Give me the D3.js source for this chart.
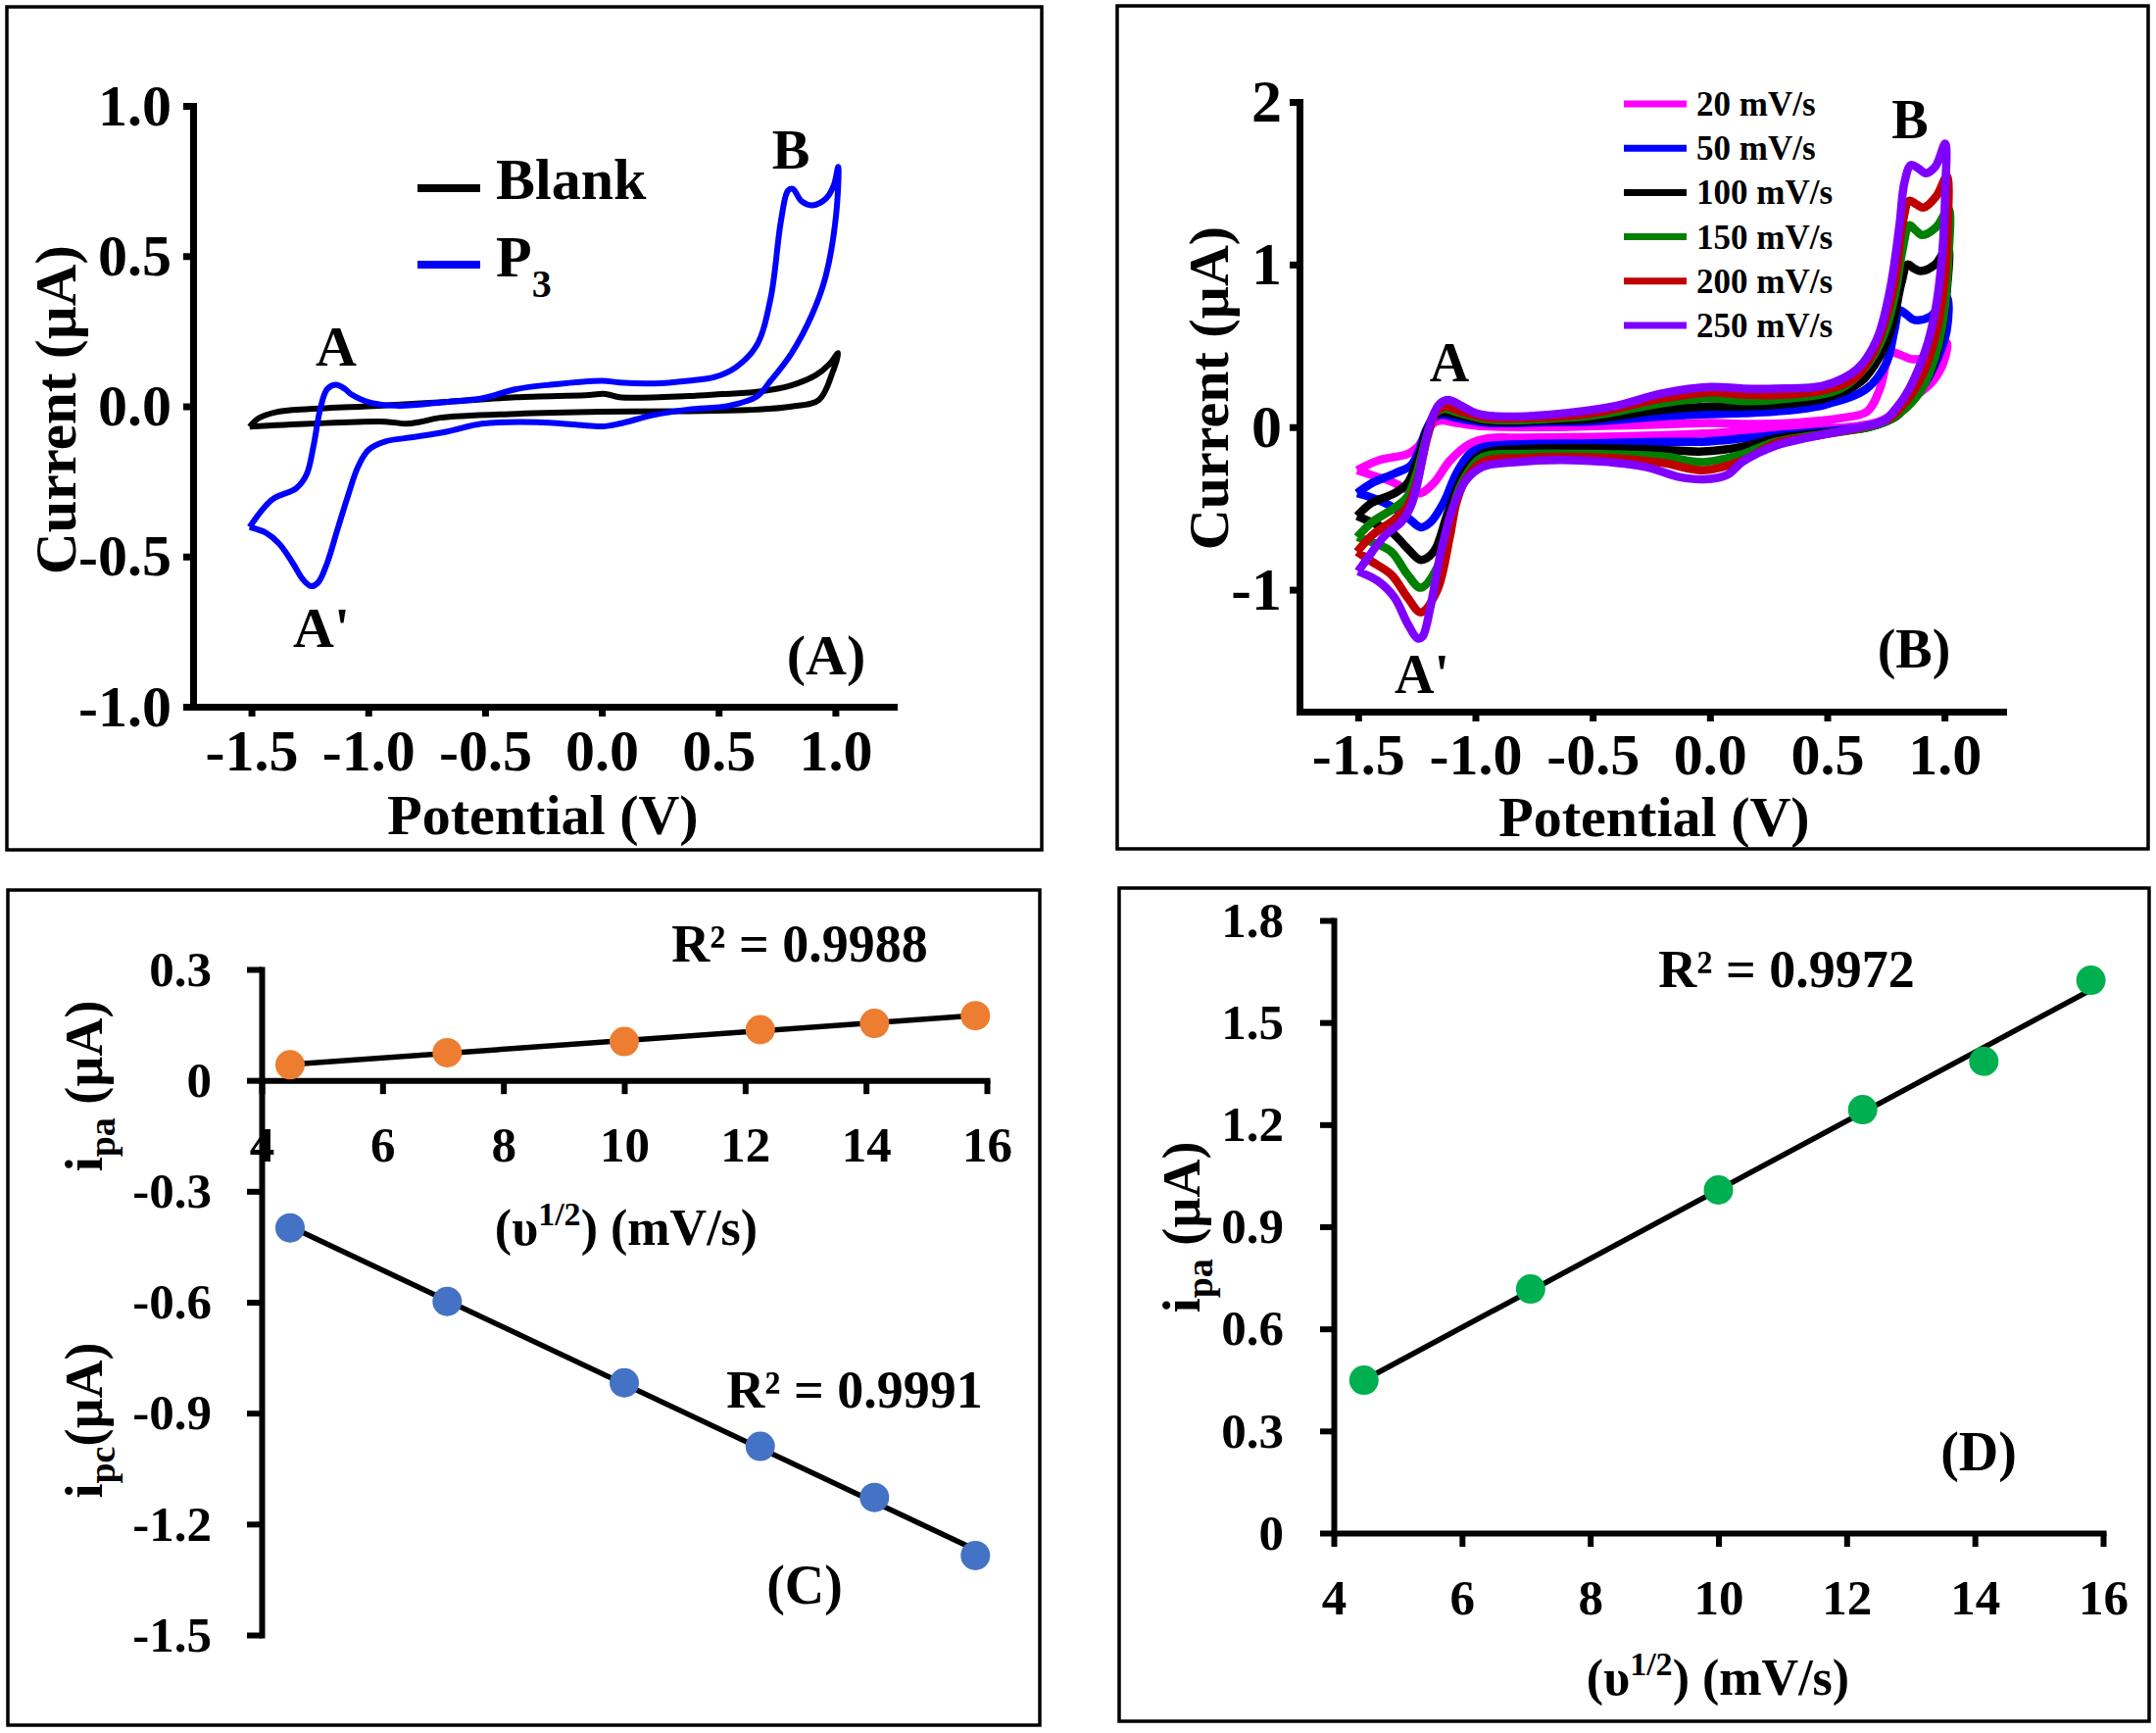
<!DOCTYPE html>
<html lang="en">
<head>
<meta charset="UTF-8">
<title>CV panels</title>
<script src="https://d3js.org/d3.v7.min.js"></script>
<style>
  body { margin: 0; background: #fff; }
  svg text { font-family: "Liberation Serif", "Times New Roman", serif; font-weight: bold; fill: #000; }
</style>
</head>
<body>
<div id="chart"></div>
<script>
// ---------- data ----------
const potTicks = [-1.5, -1.0, -0.5, 0.0, 0.5, 1.0];
const curTicksA = [-1.0, -0.5, 0.0, 0.5, 1.0];
const curTicksB = [-1, 0, 1, 2];

// panel A: [potential V, current uA], forward sweep then return
const blank = [[-1.508,-0.068],[-1.470,-0.040],[-1.397,-0.020],[-1.250,-0.009],[-0.955,0.002],[-0.661,0.015],[-0.367,0.030],[-0.072,0.037],[0.016,0.041],[0.075,0.030],[0.370,0.034],[0.517,0.041],[0.664,0.048],[0.812,0.070],[0.915,0.103],[0.974,0.140],[1.012,0.177],
  [0.988,0.113],[0.929,0.021],[0.812,-0.001],[0.664,-0.011],[0.370,-0.016],[0.002,-0.018],[-0.367,-0.025],[-0.691,-0.038],[-0.779,-0.052],[-0.838,-0.058],[-0.926,-0.051],[-1.250,-0.058],[-1.508,-0.068]];
const p3 = [[-1.508,-0.402],[-1.411,-0.310],[-1.308,-0.273],[-1.264,-0.227],[-1.235,-0.135],[-1.205,-0.007],[-1.176,0.057],[-1.140,0.072],[-1.100,0.058],[-1.073,0.040],[-0.985,0.011],[-0.867,0.002],[-0.661,0.015],[-0.514,0.026],[-0.367,0.057],[-0.219,0.072],[0.002,0.085],[0.075,0.079],[0.222,0.076],[0.370,0.085],[0.487,0.098],[0.576,0.131],[0.664,0.204],[0.723,0.360],[0.767,0.617],[0.797,0.718],[0.817,0.724],[0.856,0.682],[0.900,0.669],[0.959,0.691],[0.994,0.737],[1.012,0.797],
  [1.003,0.636],[0.959,0.434],[0.900,0.305],[0.812,0.176],[0.723,0.085],[0.664,0.033],[0.546,0.002],[0.370,-0.011],[0.222,-0.029],[0.075,-0.058],[0.002,-0.067],[-0.101,-0.062],[-0.278,-0.053],[-0.514,-0.058],[-0.661,-0.084],[-0.808,-0.103],[-0.926,-0.117],[-0.999,-0.145],[-1.043,-0.200],[-1.088,-0.301],[-1.132,-0.411],[-1.176,-0.522],[-1.214,-0.586],[-1.244,-0.599],[-1.279,-0.577],[-1.323,-0.522],[-1.382,-0.457],[-1.441,-0.420],[-1.508,-0.402]];

// panel B: scan rates
const scanLabels = ["20 mV/s", "50 mV/s", "100 mV/s", "150 mV/s", "200 mV/s", "250 mV/s"];
const cv20 = [[-1.504,-0.265],[-1.414,-0.205],[-1.289,-0.165],[-1.247,-0.124],[-1.212,-0.044],[-1.178,0.026],[-1.143,0.040],[-1.08,0.026],[-0.97,0.006],[-0.7,0.0],[-0.5,0.006],[-0.2,0.016],[0.0,0.026],[0.15,0.02],[0.35,0.026],[0.56,0.056],[0.67,0.096],[0.725,0.237],[0.753,0.398],[0.774,0.458],[0.82,0.44],[0.864,0.418],[0.947,0.438],[1.01,0.518],
  [0.996,0.398],[0.947,0.277],[0.864,0.177],[0.794,0.096],[0.725,0.036],[0.628,0.006],[0.45,-0.01],[0.28,-0.02],[0.14,-0.025],[-0.03,-0.04],[-0.2,-0.05],[-0.5,-0.06],[-0.8,-0.065],[-0.942,-0.068],[-1.025,-0.104],[-1.108,-0.205],[-1.178,-0.345],[-1.233,-0.406],[-1.289,-0.386],[-1.358,-0.335],[-1.442,-0.295],[-1.504,-0.265]];
const cv50 = [[-1.504,-0.406],[-1.442,-0.345],[-1.344,-0.285],[-1.275,-0.235],[-1.24,-0.145],[-1.212,-0.024],[-1.178,0.056],[-1.143,0.076],[-1.08,0.056],[-0.942,0.026],[-0.7,0.03],[-0.5,0.035],[-0.2,0.066],[0.0,0.08],[0.142,0.086],[0.28,0.096],[0.489,0.137],[0.669,0.237],[0.753,0.398],[0.787,0.598],[0.808,0.719],[0.84,0.69],[0.871,0.659],[0.94,0.68],[1.01,0.799],
  [1.01,0.598],[0.975,0.438],[0.92,0.277],[0.836,0.137],[0.767,0.056],[0.65,0.0],[0.45,-0.03],[0.28,-0.05],[0.14,-0.07],[-0.03,-0.09],[-0.2,-0.09],[-0.5,-0.10],[-0.8,-0.105],[-0.97,-0.124],[-1.025,-0.165],[-1.081,-0.285],[-1.136,-0.466],[-1.192,-0.586],[-1.233,-0.616],[-1.289,-0.556],[-1.372,-0.476],[-1.456,-0.426],[-1.504,-0.406]];
const cv100 = [[-1.504,-0.546],[-1.442,-0.466],[-1.344,-0.406],[-1.289,-0.345],[-1.247,-0.205],[-1.212,-0.044],[-1.178,0.066],[-1.143,0.092],[-1.08,0.076],[-0.942,0.036],[-0.7,0.04],[-0.5,0.05],[-0.2,0.107],[0.0,0.127],[0.142,0.127],[0.28,0.137],[0.489,0.177],[0.642,0.277],[0.725,0.438],[0.78,0.639],[0.815,0.879],[0.843,1.0],[0.871,0.975],[0.899,0.96],[0.96,1.0],[1.014,1.11],
  [1.01,0.839],[0.982,0.538],[0.933,0.317],[0.85,0.157],[0.794,0.066],[0.68,0.0],[0.45,-0.04],[0.28,-0.07],[0.14,-0.12],[-0.03,-0.15],[-0.2,-0.14],[-0.5,-0.13],[-0.8,-0.135],[-0.97,-0.165],[-1.039,-0.265],[-1.081,-0.386],[-1.122,-0.546],[-1.178,-0.767],[-1.233,-0.817],[-1.289,-0.747],[-1.358,-0.646],[-1.442,-0.586],[-1.504,-0.546]];
const cv150 = [[-1.504,-0.677],[-1.442,-0.586],[-1.344,-0.496],[-1.289,-0.426],[-1.247,-0.265],[-1.205,-0.044],[-1.171,0.086],[-1.136,0.112],[-1.067,0.086],[-0.942,0.046],[-0.7,0.05],[-0.5,0.07],[-0.2,0.147],[0.0,0.177],[0.142,0.16],[0.35,0.177],[0.558,0.237],[0.669,0.378],[0.739,0.558],[0.787,0.799],[0.82,1.08],[0.85,1.241],[0.878,1.21],[0.905,1.181],[0.965,1.23],[1.017,1.341],
  [1.017,1.04],[0.996,0.679],[0.961,0.438],[0.905,0.237],[0.836,0.116],[0.767,0.046],[0.68,0.0],[0.45,-0.05],[0.28,-0.09],[0.14,-0.165],[-0.03,-0.215],[-0.2,-0.18],[-0.5,-0.165],[-0.8,-0.165],[-0.97,-0.185],[-1.039,-0.295],[-1.081,-0.426],[-1.108,-0.586],[-1.164,-0.867],[-1.233,-0.988],[-1.289,-0.908],[-1.358,-0.767],[-1.442,-0.707],[-1.504,-0.677]];
const cv200 = [[-1.504,-0.767],[-1.442,-0.667],[-1.344,-0.566],[-1.289,-0.486],[-1.247,-0.325],[-1.205,-0.064],[-1.167,0.096],[-1.129,0.127],[-1.06,0.096],[-0.942,0.056],[-0.7,0.06],[-0.5,0.085],[-0.2,0.177],[0.0,0.213],[0.142,0.2],[0.28,0.197],[0.489,0.227],[0.614,0.297],[0.697,0.458],[0.753,0.679],[0.794,0.94],[0.82,1.241],[0.85,1.392],[0.88,1.37],[0.912,1.351],[0.965,1.42],[1.01,1.542],
  [1.014,1.241],[0.996,0.839],[0.961,0.558],[0.905,0.317],[0.836,0.157],[0.767,0.056],[0.697,0.015],[0.45,-0.055],[0.28,-0.1],[0.14,-0.205],[-0.03,-0.265],[-0.2,-0.22],[-0.5,-0.185],[-0.8,-0.19],[-0.97,-0.215],[-1.039,-0.315],[-1.081,-0.466],[-1.108,-0.667],[-1.164,-1.008],[-1.233,-1.139],[-1.289,-1.048],[-1.358,-0.908],[-1.442,-0.827],[-1.504,-0.767]];
const cv250 = [[-1.5,-0.887],[-1.47,-0.827],[-1.386,-0.667],[-1.317,-0.586],[-1.275,-0.486],[-1.247,-0.345],[-1.22,-0.145],[-1.185,0.056],[-1.15,0.146],[-1.115,0.167],[-1.067,0.137],[-0.997,0.086],[-0.9,0.066],[-0.692,0.076],[-0.414,0.127],[-0.205,0.207],[0.003,0.247],[0.142,0.237],[0.28,0.237],[0.489,0.257],[0.628,0.357],[0.711,0.538],[0.767,0.839],[0.808,1.241],[0.829,1.502],[0.857,1.612],[0.89,1.59],[0.92,1.562],[0.961,1.602],[1.003,1.743],
  [1.003,1.442],[0.989,1.04],[0.961,0.719],[0.92,0.478],[0.85,0.237],[0.794,0.116],[0.739,0.036],[0.628,-0.004],[0.42,-0.064],[0.28,-0.114],[0.142,-0.21],[0.072,-0.295],[-0.025,-0.321],[-0.136,-0.305],[-0.275,-0.245],[-0.553,-0.205],[-0.83,-0.215],[-0.97,-0.245],[-1.039,-0.325],[-1.094,-0.486],[-1.15,-0.787],[-1.192,-1.108],[-1.226,-1.289],[-1.247,-1.299],[-1.289,-1.209],[-1.345,-1.048],[-1.414,-0.948],[-1.5,-0.887]];

// panels C and D: peak currents vs square root of scan rate
const sqrtRate = [4.47, 7.07, 10.0, 12.25, 14.14, 15.81];
const ipaC = [0.042, 0.075, 0.105, 0.137, 0.154, 0.175];
const ipcC = [-0.399, -0.598, -0.818, -0.990, -1.128, -1.285];
const ipaD = [0.449, 0.717, 1.008, 1.244, 1.386, 1.624];
const rootTicks = [4, 6, 8, 10, 12, 14, 16];
const ticksC = [0.3, 0, -0.3, -0.6, -0.9, -1.2, -1.5];
const ticksD = [0, 0.3, 0.6, 0.9, 1.2, 1.5, 1.8];

// ---------- drawing ----------
const FONT = '"Liberation Serif", "Times New Roman", serif';
const scanColors = ["#ff00ff", "#0000ff", "#000000", "#008000", "#c00000", "#8000ff"];
const cvs = [cv20, cv50, cv100, cv150, cv200, cv250];

const svg = d3.select("#chart").append("svg")
  .attr("width", 2200).attr("height", 1768);

// panel frames
[[7, 7, 1056, 860], [1140, 6, 1052, 860], [8, 908, 1053, 852], [1142, 906, 1051, 850]]
  .forEach(([x, y, w, h]) => svg.append("rect")
    .attr("x", x).attr("y", y).attr("width", w).attr("height", h)
    .attr("fill", "none").attr("stroke", "#000").attr("stroke-width", 3.5));

function styleAxis(g, lw, fs) {
  g.attr("font-family", FONT).attr("font-size", fs).attr("font-weight", "bold");
  g.select(".domain").attr("stroke-width", lw).attr("stroke-linecap", "square");
  g.selectAll(".tick line").attr("stroke-width", lw);
  g.selectAll(".tick text").attr("fill", "#000");
}

function label(txt, x, y, fs, anchor) {
  return svg.append("text").attr("x", x).attr("y", y)
    .attr("font-size", fs).attr("text-anchor", anchor || "middle").text(txt);
}

const cvLine = (xs, ys) => d3.line()
  .x(d => xs(d[0])).y(d => ys(d[1]))
  .curve(d3.curveCatmullRom.alpha(0.5));

// ----- panel A -----
const xA = d3.scaleLinear([-1.75, 1.25], [197, 912]);
const yA = d3.scaleLinear([-1, 1], [721, 108]);

svg.append("path").attr("d", cvLine(xA, yA)(blank))
  .attr("fill", "none").attr("stroke", "#000").attr("stroke-width", 6);
svg.append("path").attr("d", cvLine(xA, yA)(p3))
  .attr("fill", "none").attr("stroke", "#0000ff").attr("stroke-width", 6);

svg.append("g").attr("transform", "translate(0,721)")
  .call(d3.axisBottom(xA).tickValues(potTicks).tickFormat(d => d.toFixed(1))
    .tickSize(10).tickSizeOuter(0).tickPadding(12))
  .call(g => styleAxis(g, 7, 60));
svg.append("g").attr("transform", "translate(197,0)")
  .call(d3.axisLeft(yA).tickValues(curTicksA).tickFormat(d => d.toFixed(1))
    .tickSize(10).tickSizeOuter(0).tickPadding(12))
  .call(g => styleAxis(g, 7, 60));

label("Potential (V)", 554, 851, 58);
svg.append("text").attr("transform", "translate(77,418) rotate(-90)")
  .attr("font-size", 59).attr("text-anchor", "middle").text("Current (µA)");

// legend A
svg.append("line").attr("x1", 426).attr("x2", 490).attr("y1", 192).attr("y2", 192)
  .attr("stroke", "#000").attr("stroke-width", 8);
svg.append("line").attr("x1", 426).attr("x2", 490).attr("y1", 270).attr("y2", 270)
  .attr("stroke", "#0000ff").attr("stroke-width", 8);
label("Blank", 506, 203, 60, "start");
const p3t = label("P", 506, 282, 60, "start");
p3t.append("tspan").attr("font-size", 40).attr("dy", 21).text("3");

label("A", 343, 373, 58);
label("A'", 328, 660, 58);
label("B", 807, 172, 58);
label("(A)", 843, 688, 58);

// ----- panel B -----
const xB = d3.scaleLinear([-1.75, 1.25], [1326, 2044]);
const yB = d3.scaleLinear([-1.75, 2], [726, 104]);

cvs.forEach((c, i) => svg.append("path").attr("d", cvLine(xB, yB)(c))
  .attr("fill", "none").attr("stroke", scanColors[i]).attr("stroke-width", 8.5)
  .attr("stroke-linejoin", "round"));

svg.append("g").attr("transform", "translate(0,726)")
  .call(d3.axisBottom(xB).tickValues(potTicks).tickFormat(d => d.toFixed(1))
    .tickSize(10).tickSizeOuter(0).tickPadding(11))
  .call(g => styleAxis(g, 7, 60));
svg.append("g").attr("transform", "translate(1326,0)")
  .call(d3.axisLeft(yB).tickValues(curTicksB).tickFormat(d => String(d))
    .tickSize(10).tickSizeOuter(0).tickPadding(8))
  .call(g => styleAxis(g, 7, 62));

label("Potential (V)", 1688, 853, 58);
svg.append("text").attr("transform", "translate(1253,396) rotate(-90)")
  .attr("font-size", 58).attr("text-anchor", "middle").text("Current (µA)");

scanLabels.forEach((s, i) => {
  const y = 106 + i * 45.2;
  svg.append("line").attr("x1", 1657).attr("x2", 1721).attr("y1", y).attr("y2", y)
    .attr("stroke", scanColors[i]).attr("stroke-width", 7);
  label(s, 1731, y + 12, 35, "start");
});

label("A", 1479, 389, 56);
label("A'", 1451, 707, 56);
label("B", 1949, 141, 56);
label("(B)", 1953, 681, 56);

// ----- panels C and D helpers -----
function fit(xs, ys) {
  const mx = d3.mean(xs), my = d3.mean(ys);
  const b = d3.sum(xs, (x, i) => (x - mx) * (ys[i] - my)) / d3.sum(xs, x => (x - mx) ** 2);
  const a = my - b * mx;
  return x => a + b * x;
}
function trend(xs, ys, sx, sy) {
  const f = fit(xs, ys);
  const x0 = d3.min(xs), x1 = d3.max(xs);
  svg.append("line")
    .attr("x1", sx(x0)).attr("y1", sy(f(x0)))
    .attr("x2", sx(x1)).attr("y2", sy(f(x1)))
    .attr("stroke", "#000").attr("stroke-width", 5.5);
}
function dots(xs, ys, sx, sy, color) {
  svg.append("g").selectAll("circle").data(xs).join("circle")
    .attr("cx", d => sx(d)).attr("cy", (d, i) => sy(ys[i]))
    .attr("r", 15).attr("fill", color);
}
const fmtC = d => d === 0 ? "0" : d.toFixed(1);

function rootTitle(x, y) {
  const t = label("(υ", x, y, 52);
  t.append("tspan").attr("font-size", 34).attr("dy", -20).text("1/2");
  t.append("tspan").attr("dy", 20).text(") (mV/s)");
}
function subTitle(x, y, sub, rest) {
  const t = svg.append("text").attr("transform", `translate(${x},${y}) rotate(-90)`)
    .attr("font-size", 54).attr("text-anchor", "middle").text("i");
  t.append("tspan").attr("font-size", 38).attr("dy", 13).text(sub);
  t.append("tspan").attr("dy", -13).text(rest);
}

// ----- panel C -----
const xC = d3.scaleLinear([4, 16], [267, 1007]);
const yC = d3.scaleLinear([-1.5, 0.3], [1668, 989]);

svg.append("g").attr("transform", `translate(0,${yC(0)})`)
  .call(d3.axisBottom(xC).tickValues(rootTicks).tickSize(14).tickSizeOuter(0).tickPadding(33))
  .call(g => styleAxis(g, 6, 51));
svg.append("g").attr("transform", "translate(267,0)")
  .call(d3.axisLeft(yC).tickValues(ticksC).tickFormat(fmtC).tickSize(15).tickSizeOuter(0).tickPadding(36))
  .call(g => styleAxis(g, 6, 51));

trend(sqrtRate, ipaC, xC, yC);
trend(sqrtRate, ipcC, xC, yC);
dots(sqrtRate, ipaC, xC, yC, "#ed7d31");
dots(sqrtRate, ipcC, xC, yC, "#4472c4");

rootTitle(639, 1270);
subTitle(104, 1108, "pa", " (µA)");
subTitle(104, 1449, "pc", "(µA)");
label("R² = 0.9988", 816, 981, 54);
label("R² = 0.9991", 872, 1436, 54);
label("(C)", 821, 1636, 56);

// ----- panel D -----
const xD = d3.scaleLinear([4, 16], [1361, 2146]);
const yD = d3.scaleLinear([0, 1.8], [1564, 939]);

svg.append("g").attr("transform", "translate(0,1564)")
  .call(d3.axisBottom(xD).tickValues(rootTicks).tickSize(14).tickSizeOuter(0).tickPadding(33))
  .call(g => styleAxis(g, 6, 51));
svg.append("g").attr("transform", "translate(1361,0)")
  .call(d3.axisLeft(yD).tickValues(ticksD).tickFormat(fmtC).tickSize(14).tickSizeOuter(0).tickPadding(37))
  .call(g => styleAxis(g, 6, 51));

trend(sqrtRate, ipaD, xD, yD);
dots(sqrtRate, ipaD, xD, yD, "#00b050");

rootTitle(1753, 1729);
subTitle(1224, 1252, "pa", " (µA)");
label("R² = 0.9972", 1823, 1007, 54);
label("(D)", 2019, 1500, 56);
</script>
</body>
</html>
